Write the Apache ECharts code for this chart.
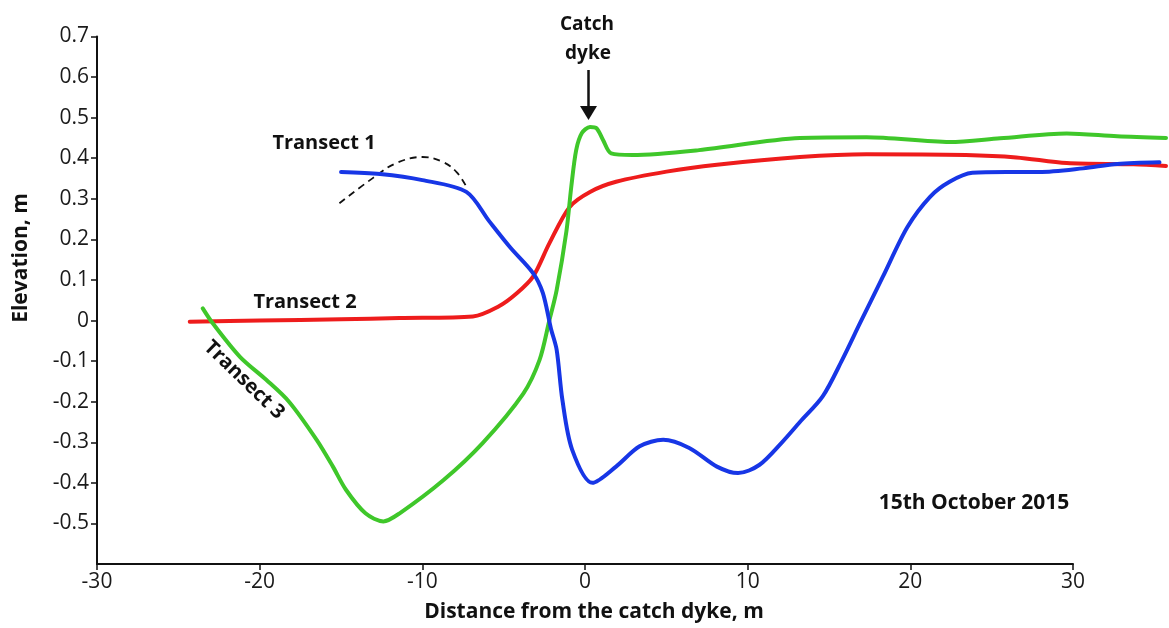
<!DOCTYPE html>
<html>
<head>
<meta charset="utf-8">
<script src="https://cdn.jsdelivr.net/npm/echarts@6/dist/echarts.min.js"></script>
<style>html,body{margin:0;padding:0;background:#fff;}#c{width:1169px;height:628px;}</style>
</head>
<body>
<div id="c"></div>
<script>
// ---- data ----
const xTicks = [-30, -20, -10, 0, 10, 20, 30];
const yTicks = [-0.5, -0.4, -0.3, -0.2, -0.1, 0, 0.1, 0.2, 0.3, 0.4, 0.5, 0.6, 0.7];

const transect1 = [
  [-15.0,0.366],[-12.6,0.361],[-10.0,0.346],[-7.3,0.317],[-5.9,0.245],[-4.6,0.18],
  [-3.2,0.117],[-2.6,0.068],[-2.1,-0.02],[-1.75,-0.072],[-1.4,-0.195],[-0.8,-0.318],
  [0.45,-0.40],[1.9,-0.36],[3.35,-0.31],[4.8,-0.294],[6.4,-0.314],[8.1,-0.36],
  [9.4,-0.376],[10.7,-0.356],[12.1,-0.30],[13.2,-0.25],[14.6,-0.187],[15.8,-0.097],
  [16.9,-0.006],[18.3,0.108],[19.8,0.23],[21.2,0.305],[22.4,0.342],[23.8,0.364],
  [25.9,0.366],[27.9,0.366],[30.6,0.375],[32.7,0.386],[35.3,0.39]
];
const transect1Old = [
  [-15.1,0.289],[-13.05,0.351],[-11.6,0.388],[-10.0,0.403],[-8.75,0.391],[-7.9,0.366],[-7.3,0.33]
];
const transect2 = [
  [-24.3,-0.003],[-20,0.0],[-15,0.003],[-11.4,0.006],[-6.9,0.01],[-5.3,0.035],[-4.2,0.067],
  [-3.2,0.108],[-2.2,0.19],[-0.95,0.28],[0.3,0.317],[1.9,0.342],[5.0,0.367],[8.1,0.384],
  [13.2,0.403],[17.3,0.41],[23.4,0.408],[26.5,0.402],[29.6,0.388],[33.7,0.385],[35.7,0.381]
];
const transect3 = [
  [-23.5,0.03],[-22.9,-0.006],[-21.2,-0.09],[-19.6,-0.146],[-18.2,-0.2],[-16.5,-0.294],
  [-15.5,-0.36],[-14.7,-0.417],[-13.5,-0.475],[-12.4,-0.495],[-11.4,-0.475],[-8.7,-0.393],
  [-6.3,-0.302],[-3.8,-0.18],[-2.8,-0.097],[-2.2,0.0],[-1.75,0.075],[-1.15,0.22],
  [-0.85,0.33],[-0.55,0.42],[-0.2,0.462],[0.3,0.477],[0.7,0.474],[1.1,0.445],[1.6,0.412],
  [2.9,0.408],[7.0,0.42],[13.2,0.45],[17.3,0.452],[22.4,0.44],[25.5,0.449],[29.6,0.461],
  [32.7,0.454],[35.7,0.45]
];

// ---- chart ----
const FONT = '"Open Sans", "DejaVu Sans", sans-serif';
const chart = echarts.init(document.getElementById('c'), null, {renderer: 'canvas'});
const lineStyle = (c) => ({color: c, width: 4, cap: 'round', join: 'round'});

chart.setOption({
  backgroundColor: '#ffffff',
  animation: false,
  grid: [
    {left: 97, right: 3, top: 36.5, bottom: 64},
    {left: 97, width: 976, top: 36.5, bottom: 64}
  ],
  xAxis: [
    {gridIndex: 0, type: 'value', min: -30, max: 35.7, show: false},
    {gridIndex: 1, type: 'value', min: -30, max: 30, interval: 10,
     axisLine: {show: true, onZero: false, lineStyle: {color: '#111', width: 2}},
     axisTick: {show: true, length: 6, lineStyle: {color: '#111', width: 1.5}, customValues: xTicks},
     axisLabel: {color: '#1a1a1a', fontFamily: FONT, fontSize: 21, margin: 8, customValues: xTicks},
     splitLine: {show: false}}
  ],
  yAxis: [
    {gridIndex: 0, type: 'value', min: -0.6, max: 0.7, interval: 0.1,
     axisLine: {show: true, onZero: false, lineStyle: {color: '#111', width: 2}},
     axisTick: {show: true, length: 6, lineStyle: {color: '#111', width: 1.5}, customValues: yTicks},
     axisLabel: {color: '#1a1a1a', fontFamily: FONT, fontSize: 21, margin: 8, customValues: yTicks,
       formatter: (v) => String(Math.round(v * 10) / 10)},
     splitLine: {show: false}},
    {gridIndex: 1, type: 'value', min: -0.6, max: 0.7, show: false}
  ],
  series: [
    {name: 'Transect 1 (earlier)', type: 'line', xAxisIndex: 0, yAxisIndex: 0, data: transect1Old,
     showSymbol: false, smooth: 0.4, lineStyle: {color: '#111', width: 1.8, type: [7, 5]}, z: 2},
    {name: 'Transect 2', type: 'line', xAxisIndex: 0, yAxisIndex: 0, data: transect2,
     showSymbol: false, smooth: 0.3, lineStyle: lineStyle('#ee1c1c'), z: 3},
    {name: 'Transect 3', type: 'line', xAxisIndex: 0, yAxisIndex: 0, data: transect3,
     showSymbol: false, smooth: 0.3, lineStyle: lineStyle('#3fc72a'), z: 4},
    {name: 'Transect 1', type: 'line', xAxisIndex: 0, yAxisIndex: 0, data: transect1,
     showSymbol: false, smooth: 0.3, lineStyle: lineStyle('#1736e6'), z: 5}
  ],
  graphic: [
    {type: 'text', x: 21, y: 258, rotation: Math.PI / 2,
     style: {text: 'Elevation, m', font: 'bold 21px ' + FONT, fill: '#111', align: 'center', verticalAlign: 'middle'}},
    {type: 'text', x: 594, y: 612,
     style: {text: 'Distance from the catch dyke, m', font: 'bold 21px ' + FONT, fill: '#111', align: 'center', verticalAlign: 'middle'}},
    {type: 'text', x: 324, y: 143,
     style: {text: 'Transect 1', font: 'bold 20px ' + FONT, fill: '#111', align: 'center', verticalAlign: 'middle'}},
    {type: 'text', x: 305, y: 302,
     style: {text: 'Transect 2', font: 'bold 20px ' + FONT, fill: '#111', align: 'center', verticalAlign: 'middle'}},
    {type: 'text', x: 244, y: 380, rotation: -0.77,
     style: {text: 'Transect 3', font: 'bold 20px ' + FONT, fill: '#111', align: 'center', verticalAlign: 'middle'}},
    {type: 'text', x: 587, y: 25,
     style: {text: 'Catch', font: 'bold 19px ' + FONT, fill: '#111', align: 'center', verticalAlign: 'middle'}},
    {type: 'text', x: 588, y: 54,
     style: {text: 'dyke', font: 'bold 19px ' + FONT, fill: '#111', align: 'center', verticalAlign: 'middle'}},
    {type: 'line', shape: {x1: 588.5, y1: 70, x2: 588.5, y2: 110}, style: {stroke: '#111', lineWidth: 2.5}},
    {type: 'polygon', shape: {points: [[580, 106], [597, 106], [588.5, 120]]}, style: {fill: '#111'}},
    {type: 'text', x: 974, y: 503,
     style: {text: '15th October 2015', font: 'bold 21px ' + FONT, fill: '#111', align: 'center', verticalAlign: 'middle'}}
  ]
});
</script>
</body>
</html>
